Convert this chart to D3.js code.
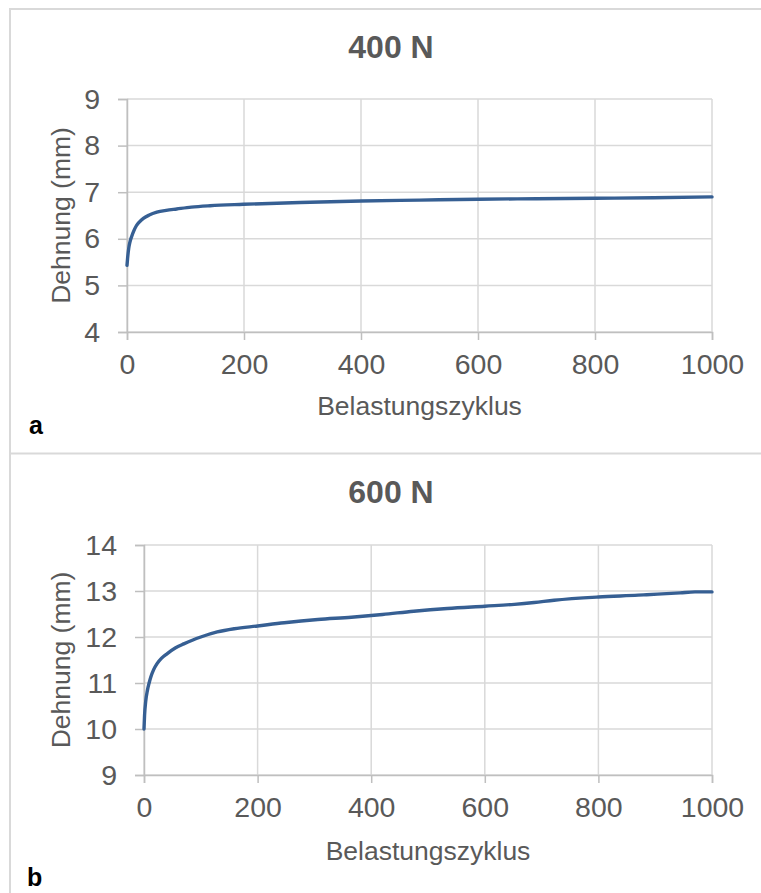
<!DOCTYPE html>
<html>
<head>
<meta charset="utf-8">
<script src="https://cdn.jsdelivr.net/npm/d3@7"></script>
<style>
  body { margin: 0; background: #fff; }
  svg { display: block; font-family: "Liberation Sans", Arial, sans-serif; }
</style>
</head>
<body>
<div id="chart"></div>
<script>
// values
const cyclesA = [0, 1, 3, 5, 8, 12, 16, 21, 28, 38, 51, 67, 85, 110, 142, 199, 296, 400, 500, 600, 700, 800, 900, 1000];
const strainA = [5.43, 5.58, 5.80, 5.93, 6.05, 6.18, 6.28, 6.36, 6.44, 6.51, 6.57, 6.61, 6.64, 6.68, 6.71, 6.74, 6.78, 6.81, 6.83, 6.85, 6.86, 6.87, 6.88, 6.90];

const cyclesB = [0, 1, 3, 6, 9, 12, 17, 23, 31, 41, 55, 70, 85, 100, 129, 159, 200, 247, 306, 365, 420, 475, 534, 600, 652, 687, 722, 800, 870, 885, 944, 970, 1000];
const strainB = [10.0, 10.3, 10.6, 10.84, 11.0, 11.13, 11.29, 11.42, 11.54, 11.64, 11.76, 11.85, 11.93, 12.0, 12.11, 12.18, 12.24, 12.31, 12.38, 12.43, 12.49, 12.56, 12.62, 12.67, 12.71, 12.75, 12.80, 12.87, 12.91, 12.92, 12.96, 12.98, 12.98];

const xTicks = [0, 200, 400, 600, 800, 1000];
const yTicksA = [4, 5, 6, 7, 8, 9];
const yTicksB = [9, 10, 11, 12, 13, 14];

const W = 761, H = 893;
const svg = d3.select("#chart").append("svg")
  .attr("width", W)
  .attr("height", H);

// panel frames
svg.append("line").attr("x1", 10).attr("x2", 10).attr("y1", 8).attr("y2", H)
  .attr("stroke", "#d9d9d9").attr("stroke-width", 2);
svg.append("line").attr("x1", 10).attr("x2", W).attr("y1", 9).attr("y2", 9)
  .attr("stroke", "#d9d9d9").attr("stroke-width", 2);
svg.append("line").attr("x1", 10).attr("x2", W).attr("y1", 453.5).attr("y2", 453.5)
  .attr("stroke", "#d9d9d9").attr("stroke-width", 2);

function drawPanel(p) {
  const x = d3.scaleLinear().domain([0, 1000]).range([p.left, 712]);
  const y = d3.scaleLinear().domain(d3.extent(p.yTicks)).range([p.bottom, p.top]);
  const g = svg.append("g");

  // gridlines
  g.selectAll(".hgrid").data(p.yTicks).join("line")
    .attr("x1", p.left).attr("x2", 712)
    .attr("y1", d => y(d)).attr("y2", d => y(d))
    .attr("stroke", "#d9d9d9").attr("stroke-width", 1.5);
  g.selectAll(".vgrid").data(xTicks).join("line")
    .attr("x1", d => x(d)).attr("x2", d => x(d))
    .attr("y1", p.top).attr("y2", p.bottom)
    .attr("stroke", "#d9d9d9").attr("stroke-width", 1.5);

  // axes
  const yAxis = g.append("g")
    .attr("transform", `translate(${p.left},0)`)
    .call(d3.axisLeft(y).tickValues(p.yTicks).tickFormat(d3.format("d")).tickSize(9).tickPadding(18));
  const xAxis = g.append("g")
    .attr("transform", `translate(0,${p.bottom})`)
    .call(d3.axisBottom(x).tickValues(xTicks).tickFormat(d3.format("d")).tickSize(8).tickPadding(14));
  [yAxis, xAxis].forEach(a => {
    a.select(".domain").attr("stroke", "#bfbfbf").attr("stroke-width", 1.5);
    a.selectAll(".tick line").attr("stroke", "#bfbfbf").attr("stroke-width", 1.5);
    a.selectAll(".tick text")
      .attr("fill", "#595959")
      .style("font-size", "28.5px")
      .style("font-family", "'Liberation Sans', Arial, sans-serif");
  });

  // data line
  const data = p.cycles.map((c, i) => ({ c, v: p.values[i] }));
  g.append("path")
    .datum(data)
    .attr("fill", "none")
    .attr("stroke", "#365f93")
    .attr("stroke-width", 3.4)
    .attr("stroke-linejoin", "round")
    .attr("stroke-linecap", "round")
    .attr("d", d3.line().x(d => x(d.c)).y(d => y(d.v)).curve(d3.curveMonotoneX));

  // titles
  g.append("text")
    .attr("x", 391).attr("y", p.titleY)
    .attr("text-anchor", "middle")
    .attr("fill", "#595959")
    .style("font-size", "32px")
    .style("font-weight", "bold")
    .text(p.title);

  g.append("text")
    .attr("x", (p.left + 712) / 2).attr("y", p.xTitleY)
    .attr("text-anchor", "middle")
    .attr("fill", "#595959")
    .style("font-size", "26.5px")
    .text("Belastungszyklus");

  g.append("text")
    .attr("transform", `translate(70,${(p.top + p.bottom) / 2}) rotate(-90)`)
    .attr("text-anchor", "middle")
    .attr("fill", "#595959")
    .style("font-size", "26.5px")
    .text("Dehnung (mm)");

  g.append("text")
    .attr("x", p.labelX).attr("y", p.labelY)
    .attr("fill", "#000")
    .style("font-size", "25px")
    .style("font-weight", "bold")
    .text(p.label);
}

drawPanel({
  title: "400 N", label: "a",
  cycles: cyclesA, values: strainA, yTicks: yTicksA,
  left: 127, top: 99, bottom: 332,
  titleY: 58, xTitleY: 415, labelX: 29, labelY: 434
});

drawPanel({
  title: "600 N", label: "b",
  cycles: cyclesB, values: strainB, yTicks: yTicksB,
  left: 144, top: 545, bottom: 775,
  titleY: 503, xTitleY: 860, labelX: 27, labelY: 886
});
</script>
</body>
</html>
